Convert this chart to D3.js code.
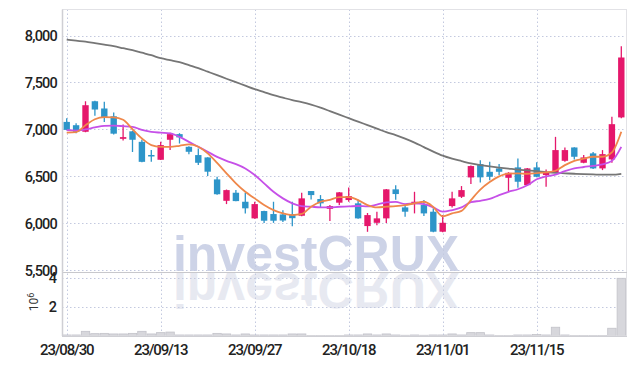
<!DOCTYPE html>
<html>
<head>
<meta charset="utf-8">
<script src="https://cdn.jsdelivr.net/npm/d3@7"></script>
<style>
body { margin: 0; background: #fff; }
text { font-family: Roboto, "Liberation Sans", sans-serif; }
</style>
</head>
<body>
<script>
// trading days shown on the chart
var dates = ["23/08/30","23/08/31","23/09/01","23/09/04","23/09/05","23/09/06","23/09/07","23/09/08","23/09/11","23/09/12",
    "23/09/13","23/09/14","23/09/15","23/09/18","23/09/19","23/09/20","23/09/21","23/09/22","23/09/25","23/09/26",
    "23/09/27","23/10/04","23/10/05","23/10/06","23/10/10","23/10/11","23/10/12","23/10/13","23/10/16","23/10/17",
    "23/10/18","23/10/19","23/10/20","23/10/23","23/10/24","23/10/25","23/10/26","23/10/27","23/10/30","23/10/31",
    "23/11/01","23/11/02","23/11/03","23/11/06","23/11/07","23/11/08","23/11/09","23/11/10","23/11/13","23/11/14",
    "23/11/15","23/11/16","23/11/17","23/11/20","23/11/21","23/11/22","23/11/23","23/11/24","23/11/27","23/11/28"];

var open  = [7080,7045,6975,7300,7223,7140,6900,6980,6868,6728, 6677,6890,6950,6815,6727,6702,6468,6240,6326,6230,
             6053,6131,6099,6095,6099,6081,6344,6259,6155,6220, 6248,6213,5971,6006,6053,6362,6170,6205,6195,6124,
             5911,6184,6283,6489,6631,6549,6585,6485,6596,6407, 6596,6514,6540,6666,6808,6645,6745,6585,6681,7128];
var high  = [7120,7065,7300,7305,7294,7180,7053,6985,6890,6780, 6870,6965,6960,6820,6798,6705,6496,6360,6354,6326,
             6230,6135,6230,6140,6230,6326,6345,6301,6195,6335, 6383,6250,6110,6124,6365,6407,6195,6336,6248,6160,
             6088,6336,6397,6615,6673,6655,6631,6545,6691,6590, 6650,6574,6921,6808,6810,6727,6760,6780,7134,7886];
var low   = [6990,6960,6970,7145,7080,6945,6883,6760,6650,6655, 6675,6780,6850,6735,6620,6505,6305,6205,6235,6106,
             6050,6005,6005,6015,5970,6075,6255,6170,6025,6195, 6230,6050,5910,5980,6005,6250,6070,6106,6078,5905,
             5905,6170,6270,6418,6436,6460,6514,6340,6380,6400, 6490,6390,6535,6655,6680,6640,6580,6567,6645,7120];
var close = [6995,6975,7258,7212,7131,6955,6918,6890,6655,6720, 6833,6950,6915,6762,6645,6550,6310,6354,6237,6160,
             6205,6028,6028,6030,6055,6266,6301,6213,6184,6330, 6290,6053,6088,6053,6362,6312,6124,6230,6106,5911,
             6006,6266,6354,6610,6490,6496,6549,6538,6443,6585, 6496,6538,6780,6780,6709,6702,6585,6737,7056,7766];

// volume in millions of shares
var volume = [0.07,0.07,0.32,0.16,0.18,0.14,0.14,0.18,0.32,0.14, 0.23,0.27,0.07,0.07,0.07,0.07,0.18,0.14,0.07,0.14,
              0.07,0.07,0.07,0.07,0.14,0.14,0.03,0.03,0.03,0.03, 0.07,0.07,0.14,0.07,0.14,0.07,0.05,0.07,0.05,0.07,
              0.07,0.14,0.07,0.23,0.23,0.07,0.03,0.03,0.07,0.07, 0.10,0.07,0.60,0.07,0.03,0.03,0.03,0.03,0.53,3.95];

// moving averages
var maShort = [6966,6972,7045,7108,7130,7128,7103,7002,6904,6833, 6815,6815,6826,6840,6815,6745,6643,6532,6426,6336,
               6266,6195,6141,6106,6088,6100,6177,6230,6250,6280, 6280,6248,6195,6170,6177,6184,6195,6213,6230,6175,
               6075,6106,6133,6248,6360,6440,6500,6530,6532,6528, 6535,6543,6560,6620,6666,6688,6709,6709,6755,6975];
var maMid   = [6993,6988,7000,7021,7038,7040,7035,7028,6995,6975, 6965,6957,6921,6868,6815,6762,6708,6666,6631,6585,
               6514,6426,6336,6266,6213,6184,6177,6170,6170,6177, 6180,6185,6180,6200,6223,6228,6205,6213,6205,6170,
               6124,6141,6170,6225,6240,6260,6301,6336,6363,6405, 6470,6500,6520,6555,6585,6600,6612,6628,6665,6815];
var maLong  = [7957,7945,7934,7918,7902,7886,7865,7844,7817,7790, 7758,7737,7716,7684,7652,7615,7578,7540,7503,7466,
               7429,7397,7365,7338,7312,7290,7264,7232,7195,7157, 7120,7083,7046,7009,6971,6939,6902,6860,6812,6764,
               6721,6689,6663,6638,6620,6606,6594,6583,6572,6564, 6556,6546,6538,6533,6528,6524,6521,6518,6518,6527];

var priceTicks = [5500, 6000, 6500, 7000, 7500, 8000];
var volumeTicks = [2, 4];
var dateTickIdx = [0, 10, 20, 30, 40, 50];

var W = 635, H = 366;
var plotLeft = 62, plotRight = 626, plotTop = 9.5, plotMid = 272, plotBottom = 336;
var upColor = "#e5176b", downColor = "#2d95c9";
var gridColor = "#c3c9df";

var svg = d3.select("body").append("svg")
    .attr("width", W)
    .attr("height", H);

var idx = d3.range(dates.length);

var x = d3.scalePoint()
    .domain(idx)
    .range([plotLeft, plotRight])
    .padding(0.5);

var y = d3.scaleLinear()
    .domain([5482, 8277])
    .range([plotMid, plotTop]);

var yv = d3.scaleLinear()
    .domain([0, 4.38])
    .range([plotBottom, plotMid]);

// watermark and its reflection
svg.append("text")
    .attr("x", 316).attr("y", 271)
    .attr("text-anchor", "middle")
    .style("font-family", "'Liberation Sans', Arial, sans-serif")
    .style("font-weight", "bold")
    .style("font-size", "50px")
    .attr("fill", "#cdd3e7")
    .text("investCRUX");

svg.append("g")
    .attr("transform", "translate(0," + (2 * plotMid) + ") scale(1,-1)")
    .append("text")
    .attr("x", 316).attr("y", 271)
    .attr("text-anchor", "middle")
    .style("font-family", "'Liberation Sans', Arial, sans-serif")
    .style("font-weight", "bold")
    .style("font-size", "50px")
    .attr("fill", "#e7e9f1")
    .text("investCRUX");

// grid
svg.append("g").selectAll("line")
    .data(priceTicks)
    .enter().append("line")
    .attr("x1", plotLeft).attr("x2", plotRight)
    .attr("y1", function(d) { return Math.round(y(d)) + 0.5; })
    .attr("y2", function(d) { return Math.round(y(d)) + 0.5; })
    .attr("stroke", gridColor)
    .attr("stroke-dasharray", "1.5,2.5");

svg.append("g").selectAll("line")
    .data(volumeTicks)
    .enter().append("line")
    .attr("x1", plotLeft).attr("x2", plotRight)
    .attr("y1", function(d) { return Math.round(yv(d)) + 0.5; })
    .attr("y2", function(d) { return Math.round(yv(d)) + 0.5; })
    .attr("stroke", gridColor)
    .attr("stroke-dasharray", "1.5,2.5");

svg.append("g").selectAll("line")
    .data(dateTickIdx)
    .enter().append("line")
    .attr("x1", function(d) { return Math.round(x(d)) + 0.5; })
    .attr("x2", function(d) { return Math.round(x(d)) + 0.5; })
    .attr("y1", plotTop).attr("y2", plotBottom)
    .attr("stroke", gridColor)
    .attr("stroke-dasharray", "1.5,2.5");

// volume bars
var step = x.step();
svg.append("g").selectAll("rect")
    .data(idx)
    .enter().append("rect")
    .attr("x", function(i) { return x(i) - step / 2 + 0.5; })
    .attr("width", step - 1)
    .attr("y", function(i) { return yv(volume[i]); })
    .attr("height", function(i) { return Math.max(1, plotBottom - yv(volume[i])); })
    .attr("fill", "#d7d7dc")
    .attr("stroke", "#c2c2c9")
    .attr("stroke-width", 0.8);

// candles
var bodyW = 6.4;
var candle = svg.append("g").selectAll("g")
    .data(idx)
    .enter().append("g")
    .attr("fill", function(i) { return close[i] >= open[i] ? upColor : downColor; })
    .attr("stroke", function(i) { return close[i] >= open[i] ? upColor : downColor; });

candle.append("line")
    .attr("x1", function(i) { return x(i); })
    .attr("x2", function(i) { return x(i); })
    .attr("y1", function(i) { return y(high[i]); })
    .attr("y2", function(i) { return y(low[i]); })
    .attr("stroke-width", 1.3);

candle.append("rect")
    .attr("x", function(i) { return x(i) - bodyW / 2; })
    .attr("width", bodyW)
    .attr("y", function(i) { return y(Math.max(open[i], close[i])); })
    .attr("height", function(i) { return Math.max(1.5, Math.abs(y(open[i]) - y(close[i]))); })
    .attr("stroke", "none");

// moving average lines
function maLine(vals) {
    return d3.line()
        .x(function(i) { return x(i); })
        .y(function(i) { return y(vals[i]); })
        .curve(d3.curveMonotoneX)(idx);
}

svg.append("path").attr("d", maLine(maLong))
    .attr("fill", "none").attr("stroke", "#767676").attr("stroke-width", 1.8);
svg.append("path").attr("d", maLine(maMid))
    .attr("fill", "none").attr("stroke", "#c650e8").attr("stroke-width", 1.8);
svg.append("path").attr("d", maLine(maShort))
    .attr("fill", "none").attr("stroke", "#ef874a").attr("stroke-width", 1.8);

// frame
svg.append("rect")
    .attr("x", plotLeft + 0.5).attr("y", plotTop)
    .attr("width", plotRight - plotLeft).attr("height", plotBottom - plotTop)
    .attr("fill", "none").attr("stroke", "#e2e2e6");
svg.append("line")
    .attr("x1", plotLeft).attr("x2", plotRight + 1)
    .attr("y1", plotMid + 0.5).attr("y2", plotMid + 0.5)
    .attr("stroke", "#c8c8cc").attr("stroke-width", 1.2);
svg.append("line")
    .attr("x1", plotLeft + 0.5).attr("x2", plotLeft + 0.5)
    .attr("y1", plotTop).attr("y2", plotBottom)
    .attr("stroke", "#cfcfd4").attr("stroke-width", 1.5);
svg.append("line")
    .attr("x1", plotLeft).attr("x2", plotRight + 1)
    .attr("y1", plotBottom + 0.5).attr("y2", plotBottom + 0.5)
    .attr("stroke", "#cfcfd4").attr("stroke-width", 1.2);

// axis labels
var fmt = d3.format(",");
svg.append("g").selectAll("text")
    .data(priceTicks)
    .enter().append("text")
    .attr("x", 57)
    .attr("y", function(d) { return y(d); })
    .attr("dy", "0.36em")
    .attr("text-anchor", "end")
    .style("font-size", "14.5px")
    .style("font-weight", 500)
    .style("letter-spacing", "-0.8px")
    .attr("fill", "#222")
    .text(function(d) { return fmt(d); });

svg.append("g").selectAll("text")
    .data(volumeTicks)
    .enter().append("text")
    .attr("x", 57)
    .attr("y", function(d) { return yv(d); })
    .attr("dy", "0.36em")
    .attr("text-anchor", "end")
    .style("font-size", "14.5px")
    .style("font-weight", 500)
    .attr("fill", "#222")
    .text(function(d) { return d; });

var unit = svg.append("text")
    .attr("transform", "translate(38,302) rotate(-90)")
    .attr("text-anchor", "middle")
    .style("font-size", "12px")
    .attr("fill", "#333");
unit.append("tspan").text("10");
unit.append("tspan").attr("dy", "-0.45em").style("font-size", "9px").text("6");

svg.append("g").selectAll("text")
    .data(dateTickIdx)
    .enter().append("text")
    .attr("x", function(d) { return x(d); })
    .attr("y", 355)
    .attr("text-anchor", "middle")
    .style("font-size", "15px")
    .style("font-weight", 500)
    .style("letter-spacing", "-1.2px")
    .attr("fill", "#222")
    .text(function(d) { return dates[d]; });
</script>
</body>
</html>
